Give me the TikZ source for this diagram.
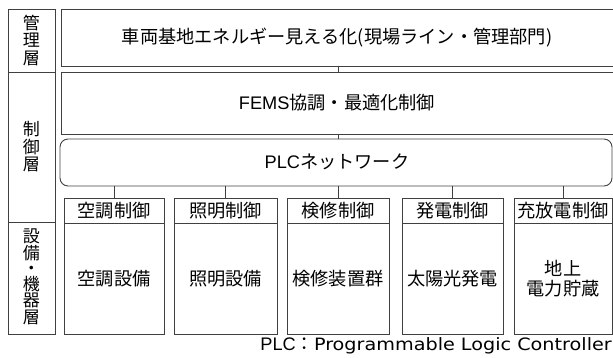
\documentclass[tikz,border=0pt]{standalone}
\usepackage{fontspec}
\setmainfont{Noto Sans CJK JP}
\newfontfamily\lat{Liberation Sans}
\newfontfamily\latwide[FakeStretch=1.13]{DejaVu Sans}
\begin{document}
\begin{tikzpicture}[x=1pt,y=-1pt,
  box/.style={draw=black!75,line width=0.9pt,inner sep=0pt,outer sep=0pt,anchor=north west,font=\fontsize{18.2}{19.5}\selectfont,align=center},
  conn/.style={draw=black!75,line width=0.9pt},
  txt/.style={font=\fontsize{18.2}{19.5}\selectfont,inner sep=0pt},
  lbl/.style={font=\fontsize{17}{17.5}\selectfont,align=center,inner sep=0pt}]
\useasboundingbox (0,0) rectangle (613,358);
% left column
\node[box,minimum width=47pt,minimum height=63pt] (l1) at (8,9) {};
\node[box,minimum width=47pt,minimum height=150pt] (l2) at (8,72) {};
\node[box,minimum width=47pt,minimum height=112pt] (l3) at (8,222) {};
\node[lbl] at (l1.center) {管\\理\\層};
\node[lbl] at (l2.center) {制\\御\\層};
\node[lbl] at ([yshift=1pt]l3.center) {設\\[-1pt]備\\[-2pt]・\\[-2pt]機\\[-1pt]器\\[-1pt]層};
% top layers
\node[box,minimum width=560pt,minimum height=57pt] (top) at (61,9) {};
\node[txt] at (337,38) {車両基地エネルギー見える化(現場ライン・管理部門)};
\node[box,minimum width=560pt,minimum height=62pt] (fems) at (61,72) {};
\node[txt] at (337,103) {{\lat FEMS}協調・最適化制御};
\node[box,rounded corners=8pt,minimum width=552pt,minimum height=47pt] (plc) at (60,139) {};
\node[txt] at (337,162) {{\lat PLC}ネットワーク};
% control heads and equipment
\foreach \i/\x/\w/\h/\b in {1/64/100/空調制御/空調設備,2/174/103/照明制御/照明設備,3/287/102/検修制御/検修装置群,4/402/101/発電制御/太陽光発電,5/514/98/充放電制御/{地上\\電力貯蔵}}{
  \node[box,minimum width=\w pt,minimum height=25pt] (h\i) at (\x,198) {\h};
  \node[box,minimum width=\w pt,minimum height=111pt] (b\i) at (\x,223) {\b};
  \draw[conn] (plc.south -| h\i.north) -- (h\i.north);
}
\draw[conn] (top.south -| h3.north) -- (fems.north -| h3.north);
\draw[conn] (fems.south -| h3.north) -- (plc.north -| h3.north);
\node[anchor=east,txt] (note) at (612,346) {{\lat PLC}：{\latwide\fontsize{17}{18}\selectfont Programmable Logic Controller}};
\end{tikzpicture}
\end{document}
